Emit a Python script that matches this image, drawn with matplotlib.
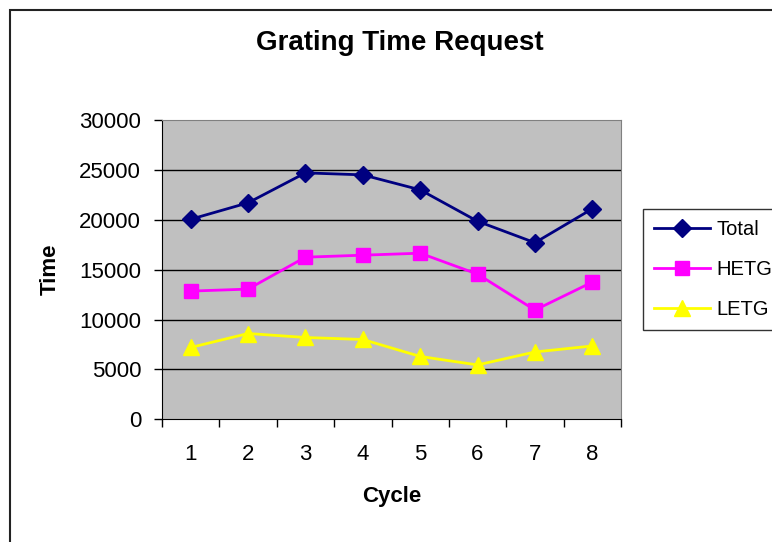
import matplotlib
matplotlib.use('Agg')
import matplotlib.pyplot as plt
from matplotlib.patches import Rectangle

plt.rcParams['font.family'] = ['Liberation Sans', 'DejaVu Sans']

# data
cycles = [1, 2, 3, 4, 5, 6, 7, 8]
total = [20050, 21700, 24700, 24500, 23000, 19850, 17700, 21100]
hetg = [12850, 13050, 16250, 16450, 16650, 14550, 10950, 13750]
letg = [7200, 8600, 8200, 8000, 6300, 5450, 6750, 7350]

fig = plt.figure(figsize=(7.72, 5.42), dpi=100)
ax = fig.add_axes([162/772, 1 - 419.3/542, 459/772, 299.3/542])

# outer chart border (cut off on the right and bottom)
fig.patches.append(Rectangle((9.5/772, -0.1), 1.2, 0.1 + (542-9.5)/542,
                             transform=fig.transFigure, fill=False,
                             edgecolor='#222222', linewidth=1.5))

ax.set_facecolor('#C0C0C0')
for y in [5000, 10000, 15000, 20000, 25000]:
    ax.axhline(y, color='black', linewidth=1.0, zorder=1)

ax.plot(cycles, total, color='#000080', marker='D', markersize=9, linewidth=2, label='Total', zorder=3)
ax.plot(cycles, hetg, color='#FF00FF', marker='s', markersize=10, linewidth=2, label='HETG', zorder=3)
ax.plot(cycles, letg, color='#FFFF00', marker='^', markersize=11, linewidth=2, label='LETG', zorder=3)

ax.set_xlim(0.5, 8.5)
ax.set_ylim(0, 30000)
ax.set_yticks(range(0, 30001, 5000))
ax.set_xticks([c + 0.5 for c in [0] + cycles])
ax.set_xticklabels([])
ax.set_xticks(cycles, minor=True)
ax.set_xticklabels([str(c) for c in cycles], minor=True)
ax.tick_params(axis='x', which='minor', length=0, pad=18, labelsize=16)
ax.tick_params(axis='x', which='major', length=6, width=1, direction='out')
ax.tick_params(axis='y', length=6, width=1, direction='out', pad=9, labelsize=16)

for s in ['top', 'right']:
    ax.spines[s].set_color('#808080')
for s in ['left', 'bottom']:
    ax.spines[s].set_color('black')

ax.set_xlabel('Cycle', fontsize=16, fontweight='bold', labelpad=15)
ax.set_ylabel('Time', fontsize=16, fontweight='bold', labelpad=13)
fig.text(400/772, 1 - 43/542, 'Grating Time Request', fontsize=20, fontweight='bold',
         ha='center', va='center')

leg = fig.legend(loc='upper left', bbox_to_anchor=(643/772, 1 - 209/542), borderaxespad=0,
                 fontsize=14.5, frameon=True, fancybox=False, edgecolor='black',
                 handlelength=2.8, labelspacing=1.05, borderpad=0.55, handletextpad=0.3)
leg.get_frame().set_linewidth(1.0)

fig.savefig('out.png', dpi=100)
